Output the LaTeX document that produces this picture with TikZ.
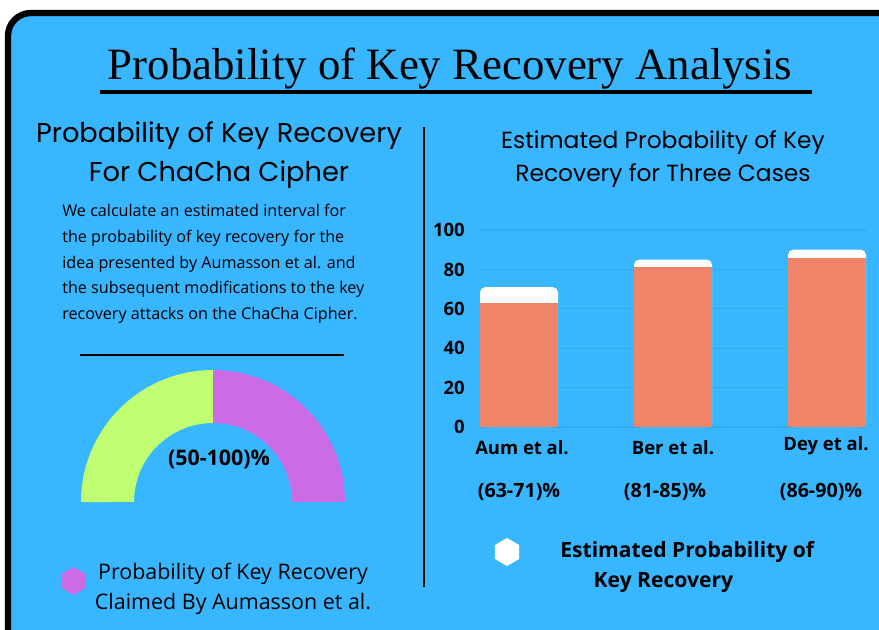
\documentclass[tikz,border=0pt]{standalone}
\usepackage{fontspec}
\setmainfont{Open Sans}
\newfontfamily\headfont{Poppins}
\newfontfamily\titlefont{Liberation Serif}
\usetikzlibrary{shapes.geometric}
\definecolor{bgblue}{HTML}{38B6FF}
\definecolor{gridblue}{HTML}{32AAF0}
\definecolor{barorange}{HTML}{F08468}
\definecolor{gaugegreen}{HTML}{C1FF72}
\definecolor{gaugepurple}{HTML}{CB6CE6}
\tikzset{
  hexmark/.style={regular polygon, regular polygon sides=6, shape border rotate=30,
    minimum size=0.56cm, inner sep=0pt},
  heading/.style={font=\headfont\fontsize{15.5}{22}\selectfont, align=center, inner sep=0pt},
  barlabel/.style={font=\bfseries\fontsize{10.5}{12}\selectfont, inner sep=0pt},
  rangelabel/.style={font=\bfseries\fontsize{11.2}{12}\selectfont, inner sep=0pt},
  ticklabel/.style={font=\bfseries\fontsize{10.5}{12}\selectfont, anchor=east, inner sep=0pt},
  rule/.style={line width=1.1pt}
}
\begin{document}
\begin{tikzpicture}[x=0.02cm, y=-0.02cm]
  \useasboundingbox (0,0) rectangle (879,629);
  \fill[white] (0,0) rectangle (879,629);
  % frame
  \begin{scope}
    \clip (0,0) rectangle (879,629);
    \draw[line width=3.6pt, fill=bgblue, rounded corners=13pt] (8,13) rectangle (920,670);
  \end{scope}
  % title
  \node[font=\titlefont\fontsize{25.5}{30}\selectfont, inner sep=0pt] (title) at (450,69)
    {Probability of Key Recovery Analysis};
  \coordinate (ul1) at (100,92);
  \coordinate (ul2) at (812,92);
  \draw[line width=1.9pt] (ul1) -- (ul2);
  % divider
  \coordinate (dv1) at (424,127);
  \coordinate (dv2) at (424,587);
  \draw[rule] (dv1) -- (dv2);

  % left part
  \node[heading] (lhead) at (219,155)
    {Probability of Key Recovery\\For ChaCha Cipher};
  \node[font=\fontsize{9.2}{14.6}\selectfont, align=left, anchor=north west, inner sep=0pt]
    (body) at (62,204)
    {We calculate an estimated interval for\\
     the probability of key recovery for the\\
     idea presented by Aumasson et al. and\\
     the subsequent modifications to the key\\
     recovery attacks on the ChaCha Cipher.};
  \coordinate (bl1) at (80,355);
  \coordinate (bl2) at (344,355);
  \draw[rule] (bl1) -- (bl2);
  % gauge
  \fill[gaugegreen] (81,502) arc[start angle=180, end angle=90, radius=2.64cm]
    -- (213,423) arc[start angle=90, end angle=180, radius=1.58cm] -- cycle;
  \fill[gaugepurple] (213,370) arc[start angle=90, end angle=0, radius=2.64cm]
    -- (292,502) arc[start angle=0, end angle=90, radius=1.58cm] -- cycle;
  \node[font=\bfseries\fontsize{12.2}{14}\selectfont, inner sep=0pt] (gval) at (219,459) {(50-100)\%};
  % legend
  \node[hexmark, fill=gaugepurple] (lhex) at (73.5,581) {};
  \node[font=\fontsize{12.2}{17}\selectfont, align=center, inner sep=0pt] (ltext) at (233,589)
    {Probability of Key Recovery\\Claimed By Aumasson et al.};

  % right part
  \node[heading, font=\headfont\fontsize{13.3}{18.7}\selectfont] (rhead) at (663,159)
    {Estimated Probability of Key\\Recovery for Three Cases};
  % chart
  \begin{scope}[shift={(0,427)}, yscale=-1.97]
    \foreach \v in {0,20,...,100}{
      \draw[gridblue, line width=0.6pt] (480,\v) -- (866,\v);
      \node[ticklabel] (tick\v) at (465,\v) {\v};
    }
    \foreach \x/\lo/\hi/\nm in {480/63/71/aum, 634/81/85/ber, 788/86/90/dey}{
      \fill[white, rounded corners=3pt] (\x,0) rectangle (\x+78,\hi);
      \fill[barorange] (\x,0) rectangle (\x+78,\lo);
      \coordinate (bar\nm) at (\x+39,0);
    }
  \end{scope}
  \node[barlabel] (naum) at (522,448) {Aum et al.};
  \node[barlabel] (nber) at (673,448) {Ber et al.};
  \node[barlabel] (ndey) at (826,446) {Dey et al.};
  \node[rangelabel] (raum) at (519,492) {(63-71)\%};
  \node[rangelabel] (rber) at (665,492) {(81-85)\%};
  \node[rangelabel] (rdey) at (821,492) {(86-90)\%};
  % legend
  \node[hexmark, fill=white] (rhex) at (507,552) {};
  \node[font=\bfseries\fontsize{12}{17}\selectfont, align=left, anchor=west, inner sep=0pt] (rtext) at (560,567)
    {Estimated Probability of\\\hspace*{19pt}Key Recovery};
\end{tikzpicture}
\end{document}
